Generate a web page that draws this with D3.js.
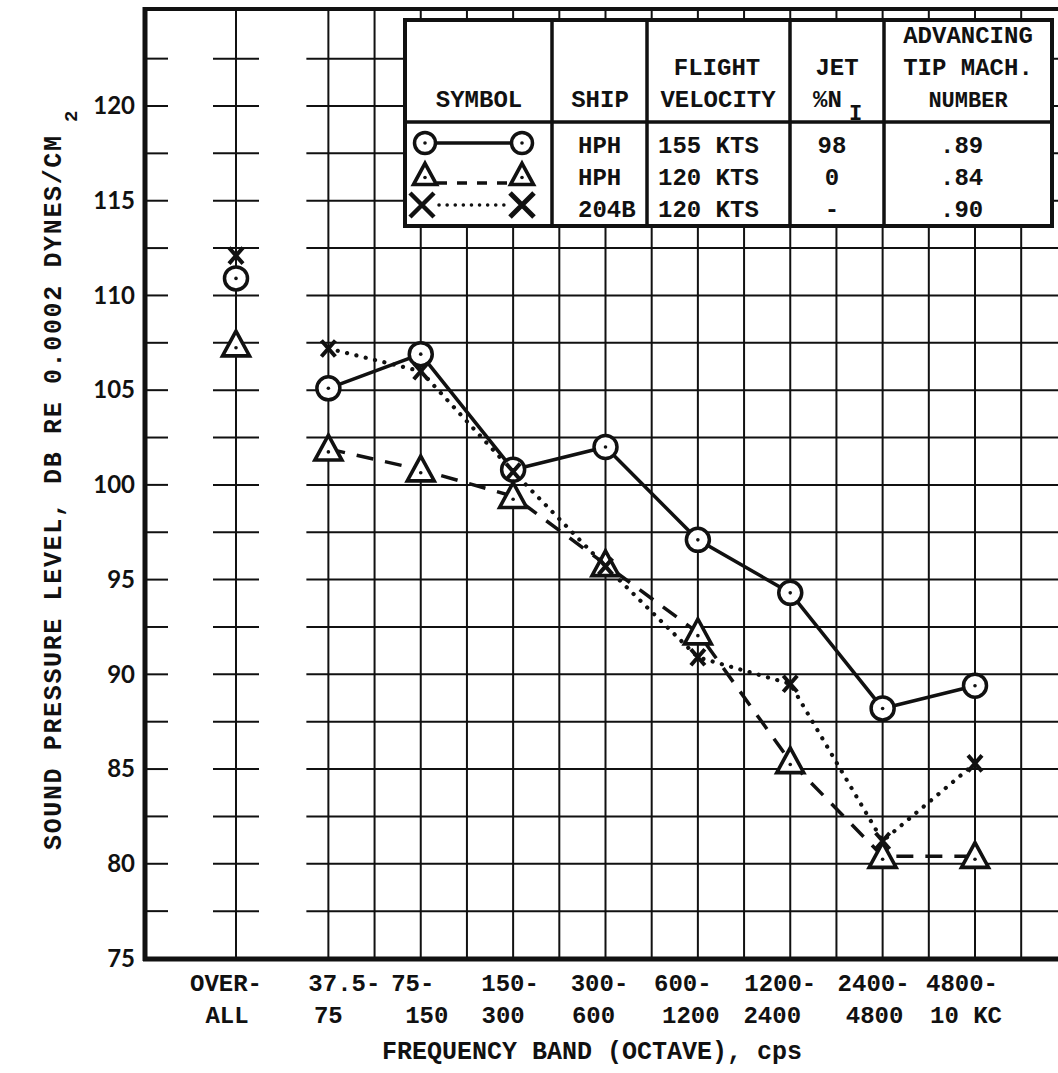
<!DOCTYPE html>
<html>
<head>
<meta charset="utf-8">
<script src="https://cdn.jsdelivr.net/npm/d3@7"></script>
<style>
  html, body { margin: 0; padding: 0; background: #fff; }
  svg { display: block; }
  .tw { font-family: "Liberation Mono", "DejaVu Sans Mono", monospace; font-weight: bold; fill: #111; }
  .ytick text { font-family: Lato, "Liberation Sans", sans-serif; font-weight: 700; font-size: 24px; fill: #111; }
</style>
</head>
<body>
<svg id="chart" width="1058" height="1073"></svg>
<script>
// Octave bands (the first entry is the overall level)
const bandTop    = ["OVER-", "37.5-", "75-", "150-", "300-", "600-", "1200-", "2400-", "4800-"];
const bandBottom = ["ALL", "75", "150", "300", "600", "1200", "2400", "4800", "10 KC"];

// Sound pressure level, dB re 0.0002 dynes/cm^2, one value per band
const splHph155 = [110.9, 105.1, 106.9, 100.8, 102.0, 97.1, 94.3, 88.2, 89.4];
const splHph120 = [107.4, 101.9, 100.8, 99.4, 95.8, 92.2, 85.4, 80.4, 80.4];
const spl204B   = [112.1, 107.2, 106.0, 100.7, 95.7, 90.9, 89.5, 81.2, 85.3];

const yTicks = [75, 80, 85, 90, 95, 100, 105, 110, 115, 120];

// Legend table contents
const legendShip     = ["HPH", "HPH", "204B"];
const legendVelocity = ["155 KTS", "120 KTS", "120 KTS"];
const legendJet      = ["98", "0", "-"];
const legendMach     = [".89", ".84", ".90"];

const W = 1058, H = 1073;
const ink = "#111";
const svg = d3.select("#chart");
svg.append("rect").attr("width", W).attr("height", H).attr("fill", "#fff");

// Scales: x runs over band index, y over dB
const x = d3.scaleLinear().domain([0, 8]).range([236, 975]);
const y = d3.scaleLinear().domain([75, 120]).range([958.5, 106]);

const X0 = 145, XR = W + 2, YT = 9, YB = 959;

// ---- grid ----
const grid = svg.append("g").attr("stroke", ink).attr("stroke-width", 2);
const hRules = d3.range(77.5, 123, 2.5);
const hSegs = [[X0, X0 + 23], [x(0) - 23, x(0) + 23], [x(1) - 22, XR]];
hRules.forEach(v => {
  hSegs.forEach(s => {
    grid.append("line").attr("x1", s[0]).attr("x2", s[1])
      .attr("y1", y(v)).attr("y2", y(v));
  });
});
const vRules = [0].concat(d3.range(1, 8.51, 0.5));
vRules.forEach(i => {
  grid.append("line").attr("x1", x(i)).attr("x2", x(i)).attr("y1", YT).attr("y2", YB);
});

// frame: heavy left/bottom axes and top rule
svg.append("line").attr("x1", X0).attr("x2", XR).attr("y1", YT).attr("y2", YT)
  .attr("stroke", ink).attr("stroke-width", 4);
svg.append("line").attr("x1", X0).attr("x2", X0).attr("y1", YT - 2).attr("y2", YB + 2)
  .attr("stroke", ink).attr("stroke-width", 5);
svg.append("line").attr("x1", X0 - 2).attr("x2", XR).attr("y1", YB).attr("y2", YB)
  .attr("stroke", ink).attr("stroke-width", 5);

// ---- y axis labels ----
const yAxis = d3.axisLeft(y).tickValues(yTicks).tickSize(0).tickPadding(10);
const gy = svg.append("g").attr("class", "ytick").attr("transform", `translate(${X0},0)`).call(yAxis);
gy.select(".domain").remove();

// y title
svg.append("text").attr("class", "tw")
  .attr("transform", "translate(61,850) rotate(-90)")
  .attr("font-size", 25)
  .attr("textLength", 714).attr("lengthAdjust", "spacing")
  .text("SOUND PRESSURE LEVEL, DB RE 0.0002 DYNES/CM");
svg.append("text").attr("class", "tw")
  .attr("transform", "translate(77,122) rotate(-90)")
  .attr("font-size", 19).text("2");

// ---- x axis labels ----
const topNudge = [-10, 16, -8, -3, -6, -15, -10, -9, -13];
const botNudge = [-9, 0, 6, -10, -12, -7, -18, -8, -9];
svg.append("g").selectAll("text").data(bandTop).join("text")
  .attr("class", "tw").attr("font-size", 24).attr("text-anchor", "middle")
  .attr("x", (d, i) => x(i) + topNudge[i]).attr("y", 991).text(d => d);
svg.append("g").selectAll("text").data(bandBottom).join("text")
  .attr("class", "tw").attr("font-size", 24).attr("text-anchor", "middle")
  .attr("x", (d, i) => x(i) + botNudge[i]).attr("y", 1023).text(d => d);
svg.append("text").attr("class", "tw").attr("font-size", 25).attr("text-anchor", "middle")
  .attr("x", 592).attr("y", 1059).text("FREQUENCY BAND (OCTAVE), cps");

// ---- series ----
const idx = d3.range(1, 9);
const line = d3.line().x(i => x(i));
const series = [
  { vals: splHph155, dash: null, width: 3.5, cap: "butt" },
  { vals: splHph120, dash: "17 12", width: 3.5, cap: "butt" },
  { vals: spl204B, dash: "0.1 9.5", width: 4.2, cap: "round" }
];
series.forEach(s => {
  svg.append("path")
    .attr("d", line.y(i => y(s.vals[i]))(idx))
    .attr("fill", "none").attr("stroke", ink)
    .attr("stroke-width", s.width).attr("stroke-dasharray", s.dash)
    .attr("stroke-linecap", s.cap);
});

// markers
function circleMark(g, cx, cy, r) {
  g.append("circle").attr("cx", cx).attr("cy", cy).attr("r", r)
    .attr("fill", "#fff").attr("stroke", ink).attr("stroke-width", 3.5);
  g.append("circle").attr("cx", cx).attr("cy", cy).attr("r", 1.8).attr("fill", ink);
}
function triMark(g, cx, cy, s) {
  const h = s * 0.92;
  g.append("path")
    .attr("d", `M${cx},${cy - h * 0.55}L${cx + s / 2},${cy + h * 0.45}L${cx - s / 2},${cy + h * 0.45}Z`)
    .attr("fill", "#fff").attr("stroke", ink).attr("stroke-width", 3.6).attr("stroke-linejoin", "miter");
  g.append("circle").attr("cx", cx).attr("cy", cy + h * 0.12).attr("r", 1.8).attr("fill", ink);
}
function crossMark(g, cx, cy, hw, hh, w) {
  g.append("path")
    .attr("d", `M${cx - hw},${cy - hh}L${cx + hw},${cy + hh}M${cx - hw},${cy + hh}L${cx + hw},${cy - hh}`)
    .attr("stroke", ink).attr("stroke-width", w).attr("fill", "none");
}

const marks = svg.append("g");
splHph155.forEach((v, i) => circleMark(marks, x(i), y(v), 11.5));
splHph120.forEach((v, i) => triMark(marks, x(i), y(v), 27));
spl204B.forEach((v, i) => crossMark(marks, x(i), y(v), 7, 8, 4));

// ---- legend table ----
const T = { l: 405, r: 1052, t: 20, hb: 122, b: 226, cols: [552, 647, 790, 884] };
const lg = svg.append("g");
lg.append("rect").attr("x", T.l).attr("y", T.t).attr("width", T.r - T.l).attr("height", T.b - T.t)
  .attr("fill", "#fff").attr("stroke", ink).attr("stroke-width", 4);
lg.append("line").attr("x1", T.l).attr("x2", T.r).attr("y1", T.hb).attr("y2", T.hb)
  .attr("stroke", ink).attr("stroke-width", 3.5);
T.cols.forEach(c => lg.append("line").attr("x1", c).attr("x2", c).attr("y1", T.t).attr("y2", T.b)
  .attr("stroke", ink).attr("stroke-width", 3.5));

function tt(txt, xx, yy, anchor, size) {
  return lg.append("text").attr("class", "tw").attr("font-size", size || 24)
    .attr("text-anchor", anchor || "middle").attr("x", xx).attr("y", yy).text(txt);
}
tt("SYMBOL", 479, 107);
tt("SHIP", 600, 107);
tt("FLIGHT", 717, 75);
tt("VELOCITY", 718, 107);
tt("JET", 837, 75);
tt("%N", 813, 107, "start");
tt("I", 849, 120, "start", 22);
tt("ADVANCING", 968, 43);
tt("TIP MACH.", 968, 75);
tt("NUMBER", 968, 107, "middle", 22);

const rowBase = [153, 185, 217];
legendShip.forEach((d, i) => tt(d, 578, rowBase[i], "start"));
legendVelocity.forEach((d, i) => tt(d, 658, rowBase[i], "start"));
legendJet.forEach((d, i) => tt(d, 832, rowBase[i], "middle"));
legendMach.forEach((d, i) => tt(d, 940, rowBase[i], "start"));

// legend symbols
const sx0 = 425, sx1 = 522;
lg.append("line").attr("x1", sx0).attr("x2", sx1).attr("y1", 143).attr("y2", 143)
  .attr("stroke", ink).attr("stroke-width", 3.5);
circleMark(lg, sx0, 143, 10.5);
circleMark(lg, sx1, 143, 10.5);
lg.append("line").attr("x1", sx0 + 8).attr("x2", sx1 - 8).attr("y1", 183).attr("y2", 183)
  .attr("stroke", ink).attr("stroke-width", 3.5).attr("stroke-dasharray", "10 10")
  .attr("stroke-dashoffset", -4);
triMark(lg, sx0, 175, 23);
triMark(lg, sx1, 175, 23);
lg.append("line").attr("x1", sx0 + 14).attr("x2", sx1 - 12).attr("y1", 205).attr("y2", 205)
  .attr("stroke", ink).attr("stroke-width", 3.5).attr("stroke-dasharray", "0.1 8")
  .attr("stroke-linecap", "round");
crossMark(lg, 422, 205, 12, 12, 4.5);
crossMark(lg, sx1, 205, 12, 12, 5);
</script>
</body>
</html>
